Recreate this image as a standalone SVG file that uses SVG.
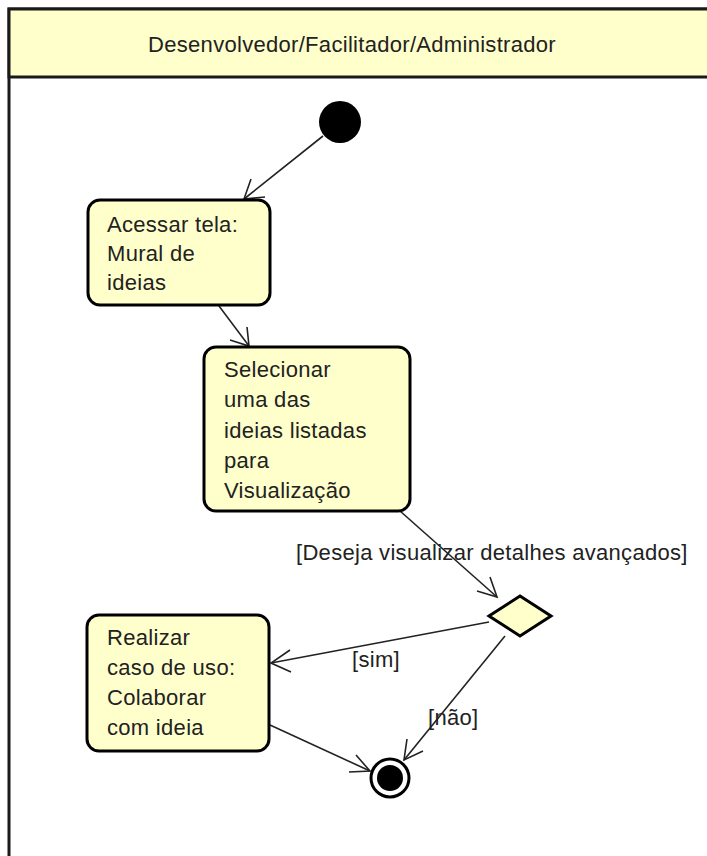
<svg xmlns="http://www.w3.org/2000/svg" width="707" height="856" viewBox="0 0 707 856">
  <style>
    .lane { fill: #ffffff; stroke: #1a1a1a; stroke-width: 3; }
    .head { fill: #ffffcc; stroke: #1a1a1a; stroke-width: 3; }
    .act { fill: #ffffcc; stroke: #000000; stroke-width: 3; }
    .txt { font-family: "Liberation Sans", Arial, sans-serif; font-size: 22px; letter-spacing: 0.3px; fill: #222222; }
    .lbl { font-family: "Liberation Sans", Arial, sans-serif; font-size: 22px; letter-spacing: 0.3px; fill: #222222; }
    .edge { fill: none; stroke: #222222; stroke-width: 1.6; }
    .head-arrow { fill: none; stroke: #222222; stroke-width: 1.6; }
  </style>

  <!-- swimlane partition -->
  <g id="lane">
    <rect class="lane" x="9" y="9" width="720" height="880"/>
    <rect class="head" x="9" y="9" width="720" height="68"/>
    <text class="txt" x="352" y="52" text-anchor="middle">Desenvolvedor/Facilitador/Administrador</text>
  </g>

  <!-- connectors -->
  <g id="connectors">
    <line class="edge" x1="323" y1="136" x2="244" y2="199"/>
    <polyline class="head-arrow" points="251,179 244,199 265,197"/>

    <line class="edge" x1="219" y1="306" x2="249" y2="346"/>
    <polyline class="head-arrow" points="230,340 249,346 247,327"/>

    <line class="edge" x1="400" y1="511" x2="497" y2="597"/>
    <polyline class="head-arrow" points="477,591 497,597 490,577"/>
    <text class="lbl" x="296" y="560">[Deseja visualizar detalhes avançados]</text>

    <line class="edge" x1="489" y1="622" x2="271" y2="663"/>
    <polyline class="head-arrow" points="290,650 271,663 291,672"/>
    <text class="lbl" x="352" y="667">[sim]</text>

    <line class="edge" x1="505" y1="636" x2="404" y2="760"/>
    <polyline class="head-arrow" points="407,739 404,760 423,751"/>
    <text class="lbl" x="428" y="725">[não]</text>

    <line class="edge" x1="270" y1="725" x2="370" y2="771"/>
    <polyline class="head-arrow" points="356,755 370,771 349,772"/>
  </g>

  <g id="initial">
    <circle cx="340" cy="122" r="21" fill="#000000"/>
  </g>

  <g id="acessar-tela">
    <rect class="act" x="88" y="200" width="182" height="105" rx="12"/>
    <text class="txt" x="107" y="232">Acessar tela:</text>
    <text class="txt" x="107" y="261">Mural de</text>
    <text class="txt" x="107" y="290">ideias</text>
  </g>

  <g id="selecionar-ideia">
    <rect class="act" x="204" y="347" width="206" height="164" rx="12"/>
    <text class="txt" x="224" y="377">Selecionar</text>
    <text class="txt" x="224" y="407">uma das</text>
    <text class="txt" x="224" y="438">ideias listadas</text>
    <text class="txt" x="224" y="468">para</text>
    <text class="txt" x="224" y="498">Visualização</text>
  </g>

  <g id="decisao">
    <polygon class="act" points="520,596 551,616 520,636 489,616"/>
  </g>

  <g id="colaborar">
    <rect class="act" x="87" y="615" width="182" height="136" rx="12"/>
    <text class="txt" x="107" y="645">Realizar</text>
    <text class="txt" x="107" y="675">caso de uso:</text>
    <text class="txt" x="107" y="705">Colaborar</text>
    <text class="txt" x="107" y="735">com ideia</text>
  </g>

  <g id="final">
    <circle cx="390" cy="778" r="19" fill="#ffffff" stroke="#000000" stroke-width="3"/>
    <circle cx="390" cy="778" r="13" fill="#000000"/>
  </g>
</svg>
